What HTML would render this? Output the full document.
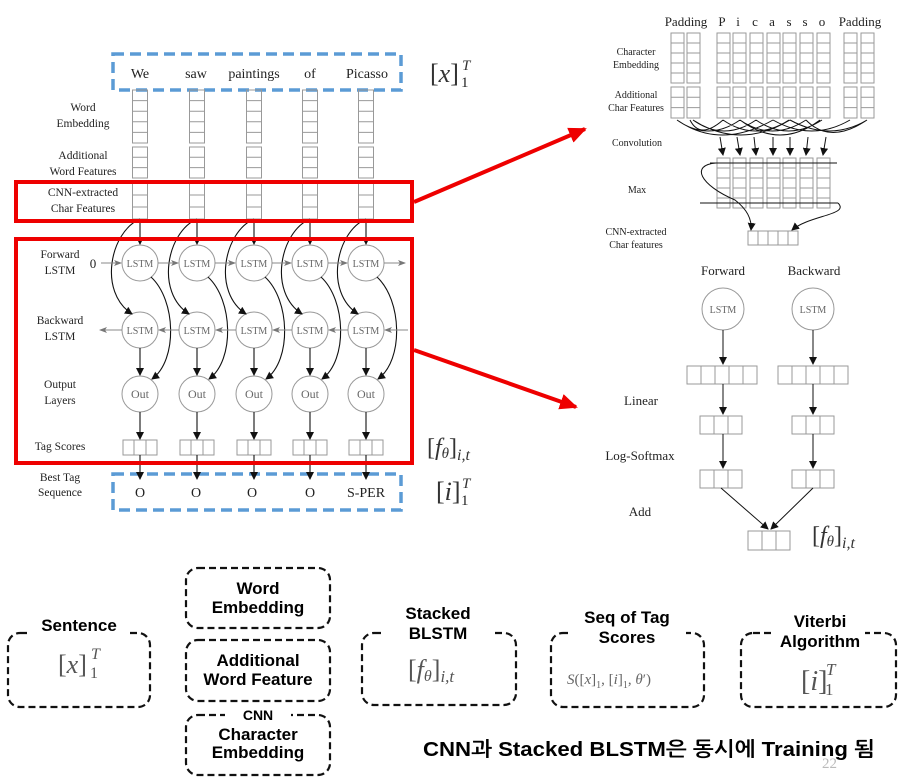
<!DOCTYPE html>
<html><head><meta charset="utf-8"><style>
html,body{margin:0;padding:0;background:#fff;}
svg{display:block;}
.s{font-family:"Liberation Serif",serif;fill:#222;}
.m{font-family:"Liberation Serif",serif;font-style:italic;fill:#333;}
.b{font-family:"Liberation Sans","NanumGothic",sans-serif;font-weight:bold;fill:#000;}
</style></head><body>
<svg width="904" height="780" viewBox="0 0 904 780" xmlns="http://www.w3.org/2000/svg">
<defs>
<marker id="a" markerWidth="8" markerHeight="8" refX="7" refY="4" orient="auto" markerUnits="userSpaceOnUse"><path d="M0,0 L8,4 L0,8 z" fill="#111"/></marker>
<marker id="g" markerWidth="8" markerHeight="8" refX="7" refY="4" orient="auto" markerUnits="userSpaceOnUse"><path d="M0,1 L8,4 L0,7 L2,4 z" fill="#777"/></marker>
<marker id="r" markerWidth="20" markerHeight="20" refX="16" refY="10" orient="auto" markerUnits="userSpaceOnUse"><path d="M0,2 L18,10 L0,18 z" fill="#e00"/></marker>
<g id="col" fill="none">
<g stroke="#999" stroke-width="1">
<rect x="-7.5" y="90" width="15" height="53"/>
<path d="M-7.5,100.6H7.5M-7.5,111.2H7.5M-7.5,121.8H7.5M-7.5,132.4H7.5"/>
<rect x="-7.5" y="147" width="15" height="31"/>
<path d="M-7.5,157.3H7.5M-7.5,167.6H7.5"/>
<rect x="-7.5" y="183" width="15" height="36"/>
<path d="M-7.5,195H7.5M-7.5,207H7.5"/>
<circle cx="0" cy="263" r="18"/>
<circle cx="0" cy="330" r="18"/>
<circle cx="0" cy="394" r="18"/>
<rect x="-17" y="440" width="34" height="15"/>
<path d="M-6,440V455M6,440V455"/>
</g>
<g stroke="#111" stroke-width="1.1">
<path d="M0,219V244" marker-end="url(#a)"/>
<path d="M0,348V375" marker-end="url(#a)"/>
<path d="M0,412V439" marker-end="url(#a)"/>
<path d="M0,455V479" marker-end="url(#a)"/>
<path d="M0,219 C-30,232 -42,292 -8,314" marker-end="url(#a)"/>
<path d="M11,277 C36,300 38,360 12,379" marker-end="url(#a)"/>
</g>
</g>
</defs>

<!-- left blue boxes -->
<rect x="113" y="54" width="288" height="36" fill="none" stroke="#5b9bd5" stroke-width="3.5" stroke-dasharray="11,6"/>
<rect x="113" y="474" width="288" height="36" fill="none" stroke="#5b9bd5" stroke-width="3.5" stroke-dasharray="11,6"/>
<g class="s" font-size="14" text-anchor="middle">
<text x="140" y="78">We</text><text x="196" y="78">saw</text><text x="254" y="78">paintings</text><text x="310" y="78">of</text><text x="367" y="78">Picasso</text>
<text x="140" y="497">O</text><text x="196" y="497">O</text><text x="252" y="497">O</text><text x="310" y="497">O</text><text x="366" y="497">S-PER</text>
</g>

<use href="#col" x="140"/><use href="#col" x="197"/><use href="#col" x="254"/><use href="#col" x="310"/><use href="#col" x="366"/>

<g stroke="#888" stroke-width="1" fill="none">
<path d="M101,263H121" marker-end="url(#g)"/>
<path d="M158,263H178" marker-end="url(#g)"/><path d="M215,263H235" marker-end="url(#g)"/><path d="M272,263H291" marker-end="url(#g)"/><path d="M328,263H347" marker-end="url(#g)"/><path d="M384,263H405" marker-end="url(#g)"/>
<path d="M122,330H100" marker-end="url(#g)"/><path d="M179,330H159" marker-end="url(#g)"/><path d="M236,330H216" marker-end="url(#g)"/><path d="M292,330H273" marker-end="url(#g)"/><path d="M348,330H329" marker-end="url(#g)"/><path d="M408,330H385" marker-end="url(#g)"/>
</g>
<g class="s" font-size="10" fill="#666" text-anchor="middle" style="fill:#666">
<text x="140" y="267">LSTM</text><text x="197" y="267">LSTM</text><text x="254" y="267">LSTM</text><text x="310" y="267">LSTM</text><text x="366" y="267">LSTM</text>
<text x="140" y="334">LSTM</text><text x="197" y="334">LSTM</text><text x="254" y="334">LSTM</text><text x="310" y="334">LSTM</text><text x="366" y="334">LSTM</text>
</g>
<g class="s" font-size="12" text-anchor="middle" style="fill:#666">
<text x="140" y="398">Out</text><text x="197" y="398">Out</text><text x="254" y="398">Out</text><text x="310" y="398">Out</text><text x="366" y="398">Out</text>
</g>
<text class="s" x="93" y="268" font-size="13" text-anchor="middle">0</text>

<g class="s" font-size="11.5" text-anchor="middle">
<text x="83" y="111">Word</text><text x="83" y="127">Embedding</text>
<text x="83" y="159">Additional</text><text x="83" y="175">Word Features</text>
<text x="83" y="196">CNN-extracted</text><text x="83" y="212">Char Features</text>
<text x="60" y="258">Forward</text><text x="60" y="274">LSTM</text>
<text x="60" y="324">Backward</text><text x="60" y="340">LSTM</text>
<text x="60" y="388">Output</text><text x="60" y="404">Layers</text>
<text x="60" y="450">Tag Scores</text>
<text x="60" y="481">Best Tag</text><text x="60" y="496">Sequence</text>
</g>

<!-- red boxes -->
<rect x="16" y="182" width="396" height="39" fill="none" stroke="#e00" stroke-width="4"/>
<rect x="16" y="239" width="396" height="224" fill="none" stroke="#e00" stroke-width="4"/>
<path d="M414,202 L585,129" stroke="#e00" stroke-width="4" marker-end="url(#r)"/>
<path d="M414,350 L576,407" stroke="#e00" stroke-width="4" marker-end="url(#r)"/>

<!-- math labels -->
<text class="m" x="430" y="82" font-size="26" style="font-style:normal">[<tspan font-style="italic">x</tspan>]</text>
<text class="m" x="462" y="70" font-size="15">T</text><text class="s" x="461" y="87" font-size="15">1</text>
<text class="m" x="427" y="455" font-size="24" style="font-style:normal">[<tspan font-style="italic">f</tspan><tspan font-style="italic" font-size="15" dy="3">θ</tspan><tspan dy="-3">]</tspan><tspan font-style="italic" font-size="16" dy="5">i,t</tspan></text>
<text class="m" x="436" y="500" font-size="26" style="font-style:normal">[<tspan font-style="italic">i</tspan>]</text>
<text class="m" x="462" y="488" font-size="15">T</text><text class="s" x="461" y="505" font-size="15">1</text>

<!-- right top -->
<g class="s" font-size="13" text-anchor="middle">
<text x="686" y="26">Padding</text><text x="722" y="26">P</text><text x="738" y="26">i</text><text x="755" y="26">c</text><text x="772" y="26">a</text><text x="789" y="26">s</text><text x="805" y="26">s</text><text x="822" y="26">o</text><text x="860" y="26">Padding</text>
</g>
<g class="s" font-size="10" text-anchor="middle">
<text x="636" y="55">Character</text><text x="636" y="68">Embedding</text>
<text x="636" y="98">Additional</text><text x="636" y="111">Char Features</text>
<text x="637" y="146">Convolution</text>
<text x="637" y="193">Max</text>
<text x="636" y="235">CNN-extracted</text><text x="636" y="248">Char features</text>
</g>
<g fill="none" stroke="#999" stroke-width="1">
<g id="cc"><rect x="671" y="33" width="13" height="50"/><path d="M671,43H684M671,53H684M671,63H684M671,73H684"/><rect x="671" y="87" width="13" height="31"/><path d="M671,97.3H684M671,107.6H684"/></g>
<use href="#cc" x="16"/><use href="#cc" x="46"/><use href="#cc" x="62"/><use href="#cc" x="79"/><use href="#cc" x="96"/><use href="#cc" x="112"/><use href="#cc" x="129"/><use href="#cc" x="146"/><use href="#cc" x="173"/><use href="#cc" x="190"/>
<g id="mc"><rect x="717" y="158" width="13" height="50"/><path d="M717,168H730M717,178H730M717,188H730M717,198H730"/></g>
<use href="#mc" x="16"/><use href="#mc" x="33"/><use href="#mc" x="50"/><use href="#mc" x="66"/><use href="#mc" x="83"/><use href="#mc" x="100"/>
<rect x="748" y="231" width="50" height="14"/><path d="M758,231V245M768,231V245M778,231V245M788,231V245"/>
<rect x="687" y="366" width="70" height="18"/><path d="M701,366V384M715,366V384M729,366V384M743,366V384"/>
<rect x="778" y="366" width="70" height="18"/><path d="M792,366V384M806,366V384M820,366V384M834,366V384"/>
<rect x="700" y="416" width="42" height="18"/><path d="M714,416V434M728,416V434"/>
<rect x="792" y="416" width="42" height="18"/><path d="M806,416V434M820,416V434"/>
<rect x="700" y="470" width="42" height="18"/><path d="M714,470V488M728,470V488"/>
<rect x="792" y="470" width="42" height="18"/><path d="M806,470V488M820,470V488"/>
<rect x="748" y="531" width="42" height="19"/><path d="M762,531V550M776,531V550"/>
<circle cx="723" cy="309" r="21"/><circle cx="813" cy="309" r="21"/>
</g>
<g fill="none" stroke="#111" stroke-width="1">
<path d="M677,120 Q708,142 740,120M693,120 Q724,142 756,120M723,120 Q755,142 789,120M740,120 Q772,142 806,120M756,120 Q788,142 822,120M773,120 Q812,142 850,120M790,120 Q830,142 867,120M677,120 Q720,150 773,120M693,120 Q740,150 790,120M723,120 Q700,140 690,120M740,120 Q780,150 820,120M806,120 Q830,145 867,120"/>
<path d="M720,137 L723,155" marker-end="url(#a)"/><path d="M737,137 L740,155" marker-end="url(#a)"/><path d="M754,137 L756,155" marker-end="url(#a)"/><path d="M773,137 L773,155" marker-end="url(#a)"/><path d="M790,137 L790,155" marker-end="url(#a)"/><path d="M808,137 L806,155" marker-end="url(#a)"/><path d="M826,137 L823,155" marker-end="url(#a)"/>
<path d="M710,163H837M700,203H838"/>
<path d="M716,163 C690,165 700,185 735,200 C748,210 752,220 751,230" marker-end="url(#a)"/>
<path d="M838,203 C850,215 810,215 792,230" marker-end="url(#a)"/>
<path d="M723,330V364" marker-end="url(#a)"/><path d="M813,330V364" marker-end="url(#a)"/>
<path d="M723,384V414" marker-end="url(#a)"/><path d="M813,384V414" marker-end="url(#a)"/>
<path d="M723,434V468" marker-end="url(#a)"/><path d="M813,434V468" marker-end="url(#a)"/>
<path d="M721,488L768,529" marker-end="url(#a)"/><path d="M813,488L771,529" marker-end="url(#a)"/>
</g>
<g class="s" font-size="10" text-anchor="middle" style="fill:#666"><text x="723" y="313">LSTM</text><text x="813" y="313">LSTM</text></g>
<g class="s" font-size="13" text-anchor="middle">
<text x="723" y="275">Forward</text><text x="814" y="275">Backward</text>
<text x="641" y="405">Linear</text><text x="640" y="460">Log-Softmax</text><text x="640" y="516">Add</text>
</g>
<text class="m" x="812" y="543" font-size="24" style="font-style:normal">[<tspan font-style="italic">f</tspan><tspan font-style="italic" font-size="15" dy="3">θ</tspan><tspan dy="-3">]</tspan><tspan font-style="italic" font-size="16" dy="5">i,t</tspan></text>

<!-- bottom dashed boxes -->
<g fill="none" stroke="#111" stroke-width="2.2" stroke-dasharray="7,4">
<rect x="8" y="633" width="142" height="74" rx="12"/>
<rect x="186" y="568" width="144" height="60" rx="12"/>
<rect x="186" y="640" width="144" height="61" rx="12"/>
<rect x="186" y="715" width="144" height="60" rx="12"/>
<rect x="362" y="633" width="154" height="72" rx="12"/>
<rect x="551" y="633" width="153" height="74" rx="12"/>
<rect x="741" y="633" width="155" height="74" rx="12"/>
</g>
<g fill="#fff">
<rect x="28" y="626" width="102" height="14"/><rect x="385" y="626" width="108" height="14"/><rect x="568" y="626" width="118" height="14"/><rect x="775" y="626" width="90" height="14"/><rect x="225" y="709" width="66" height="13"/>
</g>
<g class="b" font-size="17" text-anchor="middle">
<text x="79" y="631">Sentence</text>
<text x="258" y="594">Word</text><text x="258" y="613">Embedding</text>
<text x="258" y="666">Additional</text><text x="258" y="685">Word Feature</text>
<text x="258" y="720" font-size="14">CNN</text><text x="258" y="740">Character</text><text x="258" y="758">Embedding</text>
<text x="438" y="619">Stacked</text><text x="438" y="639">BLSTM</text>
<text x="627" y="623">Seq of Tag</text><text x="627" y="643">Scores</text>
<text x="820" y="627">Viterbi</text><text x="820" y="647">Algorithm</text>
</g>
<text class="m" x="58" y="673" font-size="26" style="font-style:normal;fill:#555">[<tspan font-style="italic">x</tspan>]</text>
<text class="m" x="91" y="659" font-size="16" style="fill:#555">T</text><text class="s" x="90" y="678" font-size="16" style="fill:#555">1</text>
<text class="m" x="408" y="678" font-size="26" style="font-style:normal;fill:#555">[<tspan font-style="italic">f</tspan><tspan font-style="italic" font-size="16" dy="3">θ</tspan><tspan dy="-3">]</tspan><tspan font-style="italic" font-size="17" dy="4">i,t</tspan></text>
<text class="m" x="567" y="684" font-size="15" style="font-style:normal;fill:#666"><tspan font-style="italic">S</tspan>([<tspan font-style="italic">x</tspan>]<tspan font-size="10" dy="4">1</tspan><tspan dy="-4">, [</tspan><tspan font-style="italic">i</tspan>]<tspan font-size="10" dy="4">1</tspan><tspan dy="-4">, </tspan><tspan font-style="italic">θ</tspan>′)</text>
<text class="m" x="801" y="690" font-size="28" style="font-style:normal;fill:#555">[<tspan font-style="italic">i</tspan>]</text>
<text class="m" x="826" y="675" font-size="17" style="fill:#555">T</text><text class="s" x="825" y="695" font-size="17" style="fill:#555">1</text>

<text class="s" x="822" y="768" font-size="15" style="fill:#bbb">22</text>
<text class="b" x="423" y="756" font-size="20" textLength="452" lengthAdjust="spacingAndGlyphs" style="font-family:'Liberation Sans','NanumGothic','Noto Sans CJK KR',sans-serif">CNN과 Stacked BLSTM은 동시에 Training 됨</text>
</svg>
</body></html>
